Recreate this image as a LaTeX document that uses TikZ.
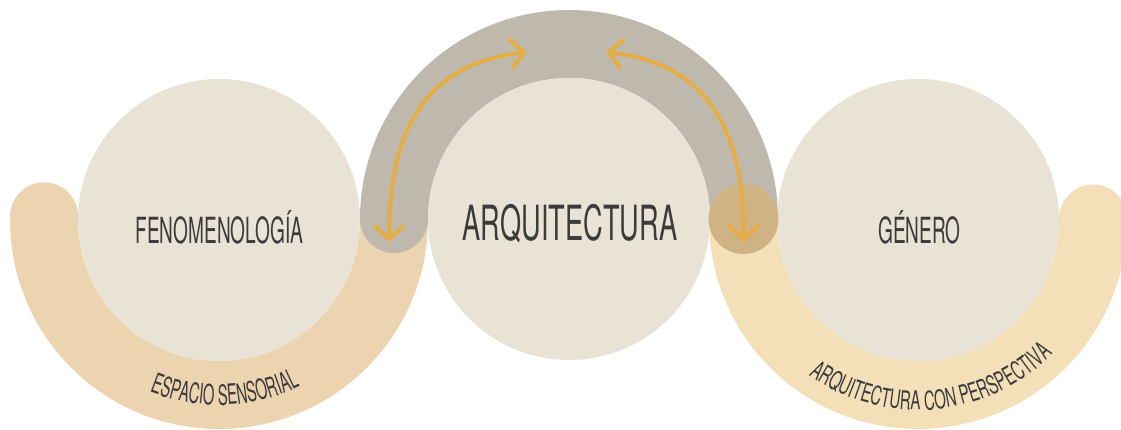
\documentclass[tikz,border=0pt]{standalone}
\usepackage{fontspec}
\usetikzlibrary{arrows.meta,decorations.text}
\newfontfamily\agencyA[FakeStretch=0.53]{TeX Gyre Heros}
\newfontfamily\agencyB[FakeStretch=0.58]{TeX Gyre Heros}
\newfontfamily\agencyC[FakeStretch=0.56]{TeX Gyre Heros}
\definecolor{bgcircle}{HTML}{E9E3D6}
\definecolor{tanarc}{HTML}{EDD4B1}
\definecolor{yelarc}{HTML}{F3E0B9}
\definecolor{grayarc}{HTML}{BFB9AD}
\definecolor{overlapc}{HTML}{CFB385}
\definecolor{arrowc}{HTML}{E5AE44}
\definecolor{txt}{HTML}{3B3B3B}
\begin{document}
\begin{tikzpicture}[x=1pt,y=1pt,
  band/.style={line width=68pt, line cap=round},
  disc/.style={circle, fill=bgcircle, minimum size=282pt, inner sep=0pt},
  link/.style={arrowc, line width=4pt, {Straight Barb[length=14pt,width=30pt]}-{Straight Barb[length=14pt,width=30pt]}},
  maintext/.style={text=txt, inner sep=0pt, anchor=base}]
\useasboundingbox (0,0) rectangle (1121,429);
\coordinate (cL) at (219,209);
\coordinate (cC) at (569,210);
\coordinate (cR) at (918,209);
% bands
\draw[band, tanarc] ([shift={(178.8:175)}]cL) arc[start angle=178.8, end angle=360, radius=175];
\draw[band, yelarc] ([shift={(180:175)}]cR) arc[start angle=180, end angle=360.5, radius=175];
\draw[band, grayarc] ([shift={(0:175)}]cC) arc[start angle=0, end angle=180, radius=175];
% circles
\node[disc] (fen) at (cL) {};
\node[disc] (arq) at (cC) {};
\node[disc] (gen) at (cR) {};
\node[circle, fill=overlapc, minimum size=70pt, inner sep=0pt] (ov) at (743.5,210) {};
% arrows
\coordinate (a1s) at (389,187);
\coordinate (a1e) at (527,377);
\coordinate (a2s) at (744,187);
\coordinate (a2e) at (606,377);
\draw[link] (a1s) .. controls (389,310) and (433,366) .. (a1e);
\draw[link] (a2s) .. controls (744,310) and (700,366) .. (a2e);
% texts
\node[maintext, font=\agencyA\fontsize{36pt}{36pt}\selectfont] (fent) at (219.5,186) {FENOMENOLOGÍA};
\node[maintext, font=\agencyC\fontsize{48.5pt}{48.5pt}\selectfont] (arqt) at (570,189) {ARQUITECTURA};
\node[maintext, font=\agencyA\fontsize{36pt}{36pt}\selectfont] (gent) at (919.5,186) {GÉNERO};
\path[decorate, decoration={text along path, text color=txt, text align=center,
  text={|\agencyA\fontsize{28pt}{28pt}\selectfont|ESPACIO SENSORIAL}}]
  ([shift={(202:185)}]cL) arc[start angle=202, end angle=342, radius=185];
\path[decorate, decoration={text along path, text color=txt, text align=center,
  text={|\agencyB\fontsize{26pt}{26pt}\selectfont|ARQUITECTURA CON PERSPECTIVA}}]
  ([shift={(200:190)}]cR) arc[start angle=200, end angle=350, radius=190];
\end{tikzpicture}
\end{document}
